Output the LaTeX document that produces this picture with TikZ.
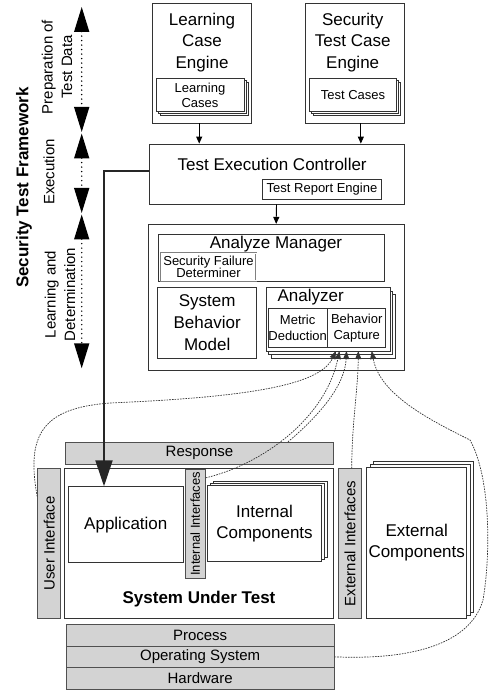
\documentclass[tikz,border=0pt]{standalone}
\usepackage{fontspec}
\setmainfont{Liberation Sans}
\usetikzlibrary{arrows.meta,shadows}
\definecolor{boxline}{HTML}{333333}
\definecolor{grayfill}{HTML}{D3D3D3}
\definecolor{grayline}{HTML}{505050}
\begin{document}
\begin{tikzpicture}[x=1pt,y=-1pt,
  box/.style={draw=boxline, line width=0.8pt, fill=white, inner sep=0pt},
  graybox/.style={draw=grayline, line width=1pt, fill=grayfill, inner sep=0pt},
  big/.style={font=\fontsize{17}{21.5}\selectfont, align=center},
  small/.style={font=\fontsize{13}{14.5}\selectfont, align=center},
  mid/.style={font=\fontsize{15}{19.5}\selectfont, align=center},
  txt/.style={inner sep=0pt},
  stackdr/.style={general shadow={fill=white,draw=boxline,line width=0.8pt,shadow xshift=4pt,shadow yshift=-4pt},
                  general shadow={fill=white,draw=boxline,line width=0.8pt,shadow xshift=2pt,shadow yshift=-2pt}},
  stackan/.style={general shadow={fill=white,draw=boxline,line width=0.8pt,shadow xshift=5pt,shadow yshift=-7pt},
                  general shadow={fill=white,draw=boxline,line width=0.8pt,shadow xshift=2.5pt,shadow yshift=-3.5pt}},
  stackic/.style={general shadow={fill=white,draw=boxline,line width=0.8pt,shadow xshift=5.6pt,shadow yshift=4.7pt},
                  general shadow={fill=white,draw=boxline,line width=0.8pt,shadow xshift=2.8pt,shadow yshift=2.4pt}},
  stackec/.style={general shadow={fill=white,draw=boxline,line width=0.8pt,shadow xshift=7pt,shadow yshift=6pt},
                  general shadow={fill=white,draw=boxline,line width=0.8pt,shadow xshift=3.5pt,shadow yshift=3pt}},
  arr/.style={draw=black, line width=0.9pt, -{Triangle[length=7pt,width=6pt]}},
  thickarrow/.style={draw=black!85, line width=2pt, -{Triangle[length=26pt,width=17pt]}},
  stagearrow/.style={draw=black, line width=1.6pt, line cap=round, dash pattern=on 0pt off 4.5pt,
                     {Triangle[length=25pt,width=15pt]}-{Triangle[length=25pt,width=15pt]}},
  sig/.style={draw=black!80, line width=0.7pt, dash pattern=on 1.6pt off 1.1pt, -{Triangle[length=8pt,width=6pt]}}
]
\useasboundingbox (0,0) rectangle (493,692);

% ---------- left side labels ----------
\node[txt, rotate=90, font=\fontsize{17}{20}\selectfont\bfseries] (stf) at (24,187.5) {Security Test Framework};
\node[txt, mid, rotate=90] (prep) at (57,67) {Preparation of\\Test Data};
\node[txt, mid, rotate=90] (exec) at (49,172) {Execution};
\node[txt, mid, rotate=90] (learn) at (60,294.5) {Learning and\\Determination};

\coordinate (p1) at (81.7,7);
\coordinate (p2) at (81.7,132);
\coordinate (e1) at (81.7,133.5);
\coordinate (e2) at (81.7,213);
\coordinate (l1) at (81.7,214.5);
\coordinate (l2) at (81.7,368.3);
\draw[stagearrow] (p1) -- (p2);
\draw[stagearrow] (e1) -- (e2);
\draw[stagearrow] (l1) -- (l2);

% ---------- engines ----------
\node[box, minimum width=99pt, minimum height=119.7pt] (lce) at (202.2,63.15) {};
\node[txt, big] (lcet) at (202,42.5) {Learning\\Case\\Engine};
\node[box, stackdr, small, minimum width=88pt, minimum height=33pt] (lcases) at (200,95.2) {Learning\\Cases};

\node[box, minimum width=98.3pt, minimum height=119.7pt] (stce) at (354.85,63.15) {};
\node[txt, big] (stcet) at (352.7,42.5) {Security\\Test Case\\Engine};
\node[box, stackdr, small, minimum width=87.4pt, minimum height=33pt] (tcases) at (353,95.2) {Test Cases};

% ---------- test execution controller ----------
\node[box, minimum width=255pt, minimum height=60pt] (tec) at (276.5,174) {};
\node[txt, big] (tect) at (272.2,164) {Test Execution Controller};
\node[box, small, minimum width=119.4pt, minimum height=20.3pt] (tre) at (322,189.15) {Test Report Engine};

% ---------- analysis ----------
\node[box, minimum width=255.7pt, minimum height=145.7pt] (ana) at (276.15,297.15) {};
\node[box, minimum width=226pt, minimum height=47.4pt] (am) at (271.3,258) {};
\node[txt, big] (amt) at (276,244) {Analyze Manager};
\node[draw=gray, double=white, double distance=0.9pt, line width=0.6pt, fill=white, inner sep=0pt,
      small, font=\fontsize{13}{12.7}\selectfont, minimum width=95pt, minimum height=27.4pt] (sfd) at (208.5,267) {Security Failure\\Determiner};
\node[box, big, font=\fontsize{17}{22}\selectfont, minimum width=99pt, minimum height=70.6pt] (sbm) at (207.2,323) {System\\Behavior\\Model};
\node[box, stackan, minimum width=124pt, minimum height=63.3pt] (anz) at (328,319.35) {};
\node[txt, big] (anzt) at (310.7,297.3) {Analyzer};
\node[box, small, font=\fontsize{13}{16.5}\selectfont, minimum width=55.3pt, minimum height=39.4pt] (md) at (297.65,328) {Metric\\Deduction};
\node[box, small, font=\fontsize{13}{16.5}\selectfont, minimum width=58pt, minimum height=39.4pt] (bc) at (356.7,328) {Behavior\\Capture};

% ---------- system under test ----------
\node[graybox, mid, minimum width=267.6pt, minimum height=22pt] (resp) at (199.5,453.3) {Response};
\node[graybox, mid, rotate=90, minimum width=149.6pt, minimum height=23pt] (ui) at (49.2,543.5) {User Interface};
\node[box, minimum width=269pt, minimum height=149.6pt] (sut) at (198.8,543.5) {};
\node[txt, font=\fontsize{17}{20}\selectfont\bfseries] (sutt) at (199,599) {System Under Test};
\node[box, big, minimum width=115pt, minimum height=76pt] (app) at (125.8,524.7) {Application};
\node[graybox, rotate=90, font=\fontsize{13}{15}\selectfont, minimum width=109pt, minimum height=20pt] (ii) at (195.3,523.8) {Internal Interfaces};
\node[box, stackic, big, minimum width=114.4pt, minimum height=76pt] (ic) at (264.5,523.7) {Internal\\Components};
\node[graybox, mid, rotate=90, minimum width=149.6pt, minimum height=22.6pt] (ei) at (350,543.5) {External Interfaces};
\node[box, stackec, big, minimum width=100pt, minimum height=151pt] (ec) at (416.7,542.8) {External\\Components};

\node[graybox, mid, minimum width=267.7pt, minimum height=22pt] (proc) at (200.15,635) {Process};
\node[graybox, mid, minimum width=267.7pt, minimum height=21.7pt] (os) at (200.15,656.85) {Operating System};
\node[graybox, mid, minimum width=267.7pt, minimum height=21.3pt] (hw) at (200.15,678.35) {Hardware};

% ---------- control arrows ----------
\coordinate (s0) at ([xshift=-3pt]lce.south);
\coordinate (s1) at ([xshift=6pt]stce.south);
\draw[arr] (s0) -- (s0 |- tec.north);
\draw[arr] (s1) -- (s1 |- tec.north);
\draw[arr] (tec.south) -- (ana.north);
\draw[thickarrow] ([yshift=3pt]tec.west) -| ([xshift=-21.8pt]app.north);

% ---------- signal curves ----------
\coordinate (t1) at (336,351);
\coordinate (t2) at (339.5,351);
\coordinate (t3) at (346.5,351);
\coordinate (t4) at (358.3,351);
\coordinate (t5) at (371.7,351);
% ui, ii, ei are rotated: their local north east is the page top-left, south east the page top-right, east the page top
\coordinate (ua) at ([yshift=-28.3pt]ui.north east);
\coordinate (ia) at ([yshift=-9pt]ii.south east);
\coordinate (ra) at ([xshift=88.5pt]resp.north);
\coordinate (ea) at ([xshift=1.7pt]ei.east);

\draw[sig] (ua) .. controls (26,435) and (42,408) .. (110,403) .. controls (250,397) and (320,385) .. (t1);
\draw[sig] (ia) .. controls (260,465) and (325,420) .. (t2);
\draw[sig] (ra) .. controls (320,415) and (345,385) .. (t3);
\draw[sig] (ea) .. controls (352,420) and (358,390) .. (t4);
\draw[sig] (os.east) .. controls (410,660) and (470,645) .. (483,600)
   .. controls (490,560) and (492,480) .. (470,440)
   .. controls (430,420) and (380,395) .. (t5);
\end{tikzpicture}
\end{document}
